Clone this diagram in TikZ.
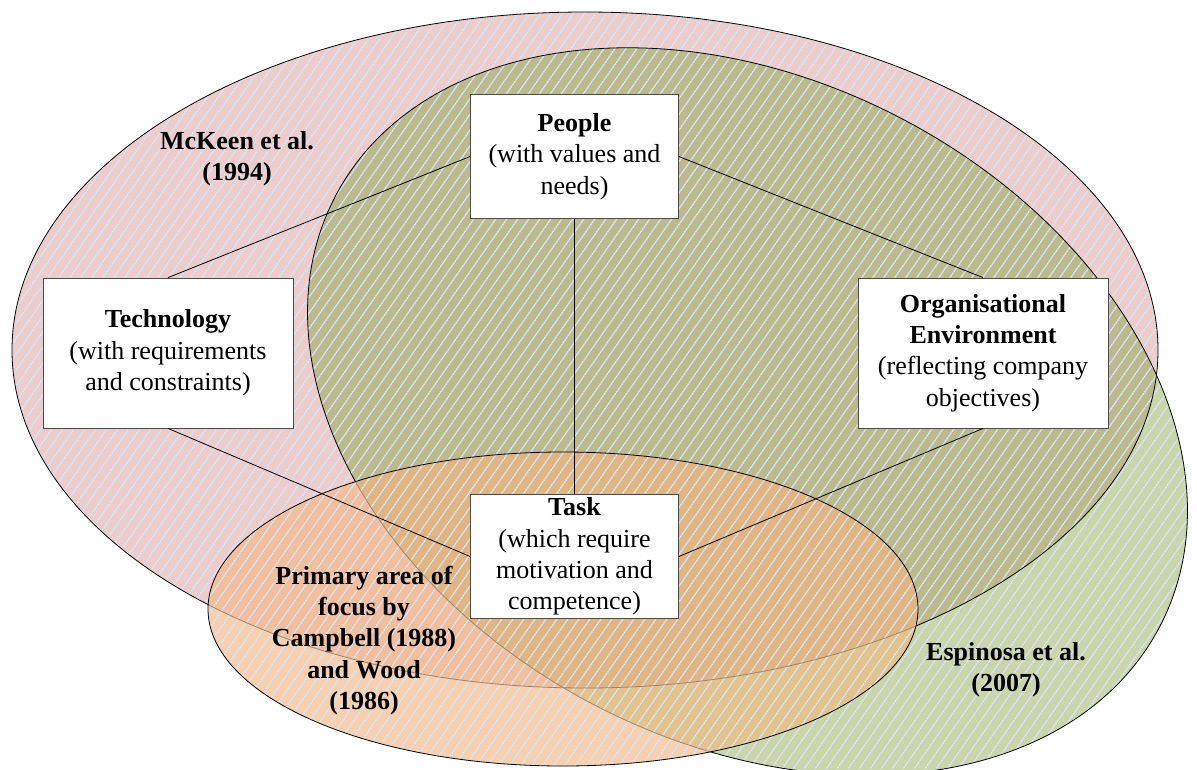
\documentclass[tikz,border=0pt]{standalone}
\usepackage{fontspec}
\setmainfont{Liberation Serif}

\definecolor{pinkfill}{RGB}{237,205,204}
\definecolor{greenfill}{RGB}{201,214,171}
\definecolor{olivefill}{RGB}{188,185,141}
\definecolor{orangefill}{RGB}{248,208,176}
\definecolor{orangepink}{RGB}{242,190,156}
\definecolor{orangegreen}{RGB}{228,194,140}
\definecolor{orangeboth}{RGB}{224,181,130}
\definecolor{hatchblue}{RGB}{204,220,240}
\definecolor{fadedrim}{RGB}{160,132,104}

\tikzset{
  mckeen/.style={insert path={(585,350) ellipse [x radius=573pt, y radius=338pt]}},
  espinosa/.style={insert path={(747.5,411.5) ellipse [x radius=465pt, y radius=331pt, rotate=-27.5]}},
  campbell/.style={insert path={(563,609) ellipse [x radius=355pt, y radius=157pt]}},
  rim/.style={draw=black, line width=0.8pt},
  softrim/.style={draw=fadedrim, line width=0.8pt},
  hatch/.style={draw=hatchblue, line width=1.2pt},
  hatchdash/.style={draw=white, line width=1.2pt, dash pattern=on 1.5pt off 1.5pt, opacity=0.4},
  box/.style={draw=black!70, fill=white, line width=0.8pt},
  smallbox/.style={box, minimum width=208pt, minimum height=124pt},
  widebox/.style={box, minimum width=250pt, minimum height=150pt},
  link/.style={draw=black, line width=0.8pt},
  tag/.style={font=\fontsize{26}{31.3}\selectfont\bfseries}
}

% diagonal light-blue hatching over the shaded areas
\newcommand\hatchlines{%
  \foreach \c in {0,11,...,1749}{%
    \draw[hatch] (\c,0) -- ++(-538,769);
    \draw[hatchdash] (\c,0) -- ++(-538,769);
  }%
}

\begin{document}
\begin{tikzpicture}[x=1pt, y=-1pt,
  every node/.style={font=\fontsize{26}{31.3}\selectfont, align=center, inner sep=0pt}]
\useasboundingbox (0,0) rectangle (1197,769);

% base fills of the two large ellipses
\fill[pinkfill, mckeen];
\fill[greenfill, espinosa];
\begin{scope}
  \clip[mckeen];
  \fill[olivefill, espinosa];
\end{scope}

\begin{scope}
  \clip[mckeen, espinosa, campbell];
  \hatchlines
\end{scope}

\draw[rim, mckeen];
\draw[rim, espinosa];

% the lower ellipse, shaded by overlap
\begin{scope}
  \clip[campbell];
  \fill[orangefill, campbell];
  \fill[orangepink, mckeen];
  \fill[orangegreen, espinosa];
  \clip[mckeen];
  \fill[orangeboth, espinosa];
\end{scope}
\begin{scope}
  \clip[campbell];
  \hatchlines
  \draw[softrim, mckeen];
  \draw[softrim, espinosa];
\end{scope}
\draw[rim, campbell];

% ellipse captions
\node[tag] (mckeenlbl) at (237,159) {McKeen et al.\\(1994)};
\node[tag] (espinosalbl) at (1006,670) {Espinosa et al.\\(2007)};
\node[tag] (campbelllbl) at (364,640.5) {Primary area of\\focus by\\Campbell (1988)\\and Wood\\(1986)};

% boxes
\node[smallbox] (people) at (574.5,156.5) {\textbf{People}\\(with values and\\needs)};
\node[widebox] (tech) at (168,353) {\textbf{Technology}\\(with requirements\\and constraints)};
\node[widebox] (orgenv) at (983,353) {\textbf{Organisational}\\\textbf{Environment}\\(reflecting company\\objectives)};
\node[smallbox] (task) at (574.5,556.5) {\textbf{Task}\\(which require\\motivation and\\competence)};

% connectors
\draw[link] (people.west) -- (tech.north);
\draw[link] (people.east) -- (orgenv.north);
\draw[link] (people.south) -- (task.north);
\draw[link] (tech.south) -- (task.west);
\draw[link] (orgenv.south) -- (task.east);
\end{tikzpicture}
\end{document}
